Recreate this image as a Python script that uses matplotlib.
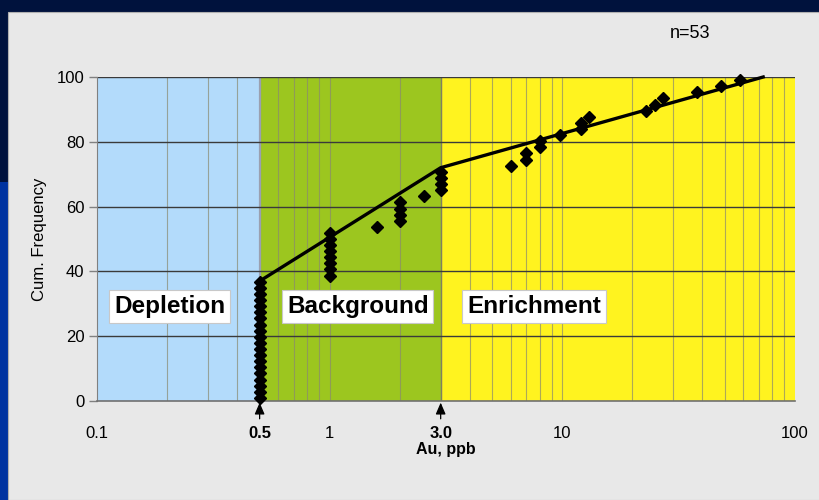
import matplotlib
matplotlib.use("Agg")
import matplotlib.pyplot as plt
from matplotlib.patches import Rectangle
import numpy as np

plt.rcParams['font.family'] = ['Liberation Sans', 'DejaVu Sans']

# ---- data ----
au_ppb = [0.5]*20 + [1.0]*8 + [1.6] + [2.0]*4 + [2.55] + [3.0]*4 + \
         [6.0, 7.0, 7.0, 8.0, 8.0, 9.8, 12.0, 12.0, 13.0, 23.0, 25.0, 27.0, 38.0, 48.0, 58.0]
cum_freq = [0.9, 2.8, 4.7, 6.6, 8.5, 10.4, 12.3, 14.2, 16.0, 17.9,
            19.8, 21.7, 23.6, 25.5, 27.4, 29.2, 31.1, 33.0, 34.9, 36.8,
            38.7, 40.6, 42.5, 44.3, 46.2, 48.1, 50.0, 51.9,
            53.8,
            55.7, 57.5, 59.4, 61.3,
            63.2,
            65.1, 67.0, 68.9, 70.8,
            72.6, 74.5, 76.4, 78.3, 80.2, 82.1, 84.0, 85.8, 87.7,
            89.6, 91.5, 93.4, 95.3, 97.2, 99.1]
fit_x = [0.5, 3.0, 73.0]
fit_y = [37.0, 72.0, 100.0]

zones = [("Depletion", 0.1, 0.5, "#b3dbfb"),
         ("Background", 0.5, 3.0, "#9cc61f"),
         ("Enrichment", 3.0, 100.0, "#fff31f")]
zone_label_x = [0.205, 1.32, 7.55]
zone_label_y = 29.2
y_ticks = [0, 20, 40, 60, 80, 100]
x_ticks = [0.1, 0.5, 1, 3, 10, 100]
x_tick_labels = ["0.1", "0.5", "1", "3.0", "10", "100"]
bold_ticks = ["0.5", "3.0"]
arrow_at = [0.5, 3.0]

W, H = 819, 500
fig = plt.figure(figsize=(W/100, H/100), dpi=100)
fig.patch.set_facecolor("#00123d")
# left blue strip and grey panel
fig.patches.append(Rectangle((0, 0), 8/W, 1 - 182/H, transform=fig.transFigure,
                             facecolor="#0033a0", edgecolor="none", zorder=-5))
fig.patches.append(Rectangle((8/W, 0), 1, 1 - 12/H, transform=fig.transFigure,
                             facecolor="#e8e8e8", edgecolor="#b0b0b0", lw=0.8, zorder=-5))

ax = fig.add_axes([97/W, 1 - 401/H, (795-97)/W, (401-77)/H])
ax.set_zorder(2)
ax.set_xscale("log")
ax.set_xlim(0.1, 100)
ax.set_ylim(0, 100)

for name, x0, x1, col in zones:
    ax.axvspan(x0, x1, color=col, zorder=0, lw=0)

# vertical grid (major + minor decades)
for dec in [0.1, 1, 10]:
    for m in range(1, 10):
        xv = dec * m
        if 0.1 < xv < 100:
            ax.axvline(xv, color="#8a8a70", lw=0.8, alpha=0.7, zorder=1)
ax.axvline(0.5, color="#9aa0b0", lw=1.6, zorder=1)
ax.axvline(3.0, color="#808060", lw=1.0, zorder=1)
for yv in y_ticks[1:]:
    ax.axhline(yv, color="#3a3a3a", lw=1.0, zorder=1.5)

ax.plot(fit_x, fit_y, color="black", lw=2.4, zorder=3, clip_on=False)
ax.plot(au_ppb, cum_freq, ls="none", marker="D", ms=6, color="black", zorder=4, clip_on=False)

for (name, *_), lx in zip(zones, zone_label_x):
    ax.text(lx, zone_label_y, name, fontsize=17.5, fontweight="bold", ha="center", va="center",
            zorder=5, bbox=dict(boxstyle="square,pad=0.2", facecolor="white", edgecolor="#c8c8c8", lw=0.8))

for s in ["top", "right"]:
    ax.spines[s].set_visible(False)
ax.spines["left"].set_color("#808080")
ax.spines["bottom"].set_color("#707070")
ax.spines["bottom"].set_linewidth(1.2)

ax.set_yticks(y_ticks)
ax.set_yticklabels([str(v) for v in y_ticks])
ax.tick_params(axis="y", length=6, width=1, color="#808080", labelsize=12, pad=3)
ax.set_xticks(x_ticks)
ax.set_xticklabels(x_tick_labels)
ax.xaxis.set_minor_locator(matplotlib.ticker.NullLocator())
ax.tick_params(axis="x", length=0, labelsize=12, pad=18)
for lab in ax.get_xticklabels():
    if lab.get_text() in bold_ticks:
        lab.set_fontweight("bold")

for xa in arrow_at:
    ax.annotate("", xy=(xa, -0.5), xytext=(xa, -5.5), xycoords="data",
                arrowprops=dict(arrowstyle="-|>,head_width=0.3,head_length=0.7",
                                color="black", lw=0.9, shrinkA=0, shrinkB=0),
                annotation_clip=False)

ax.set_xlabel("Au, ppb", fontsize=11.5, fontweight="bold")
ax.xaxis.set_label_coords(0.5, -0.128)
ax.set_ylabel("Cum. Frequency", fontsize=12, labelpad=7)
fig.text(690/W, 1 - 33/H, "n=53", fontsize=13, ha="center", va="center")

fig.savefig("out.png", dpi=100, facecolor=fig.get_facecolor())
